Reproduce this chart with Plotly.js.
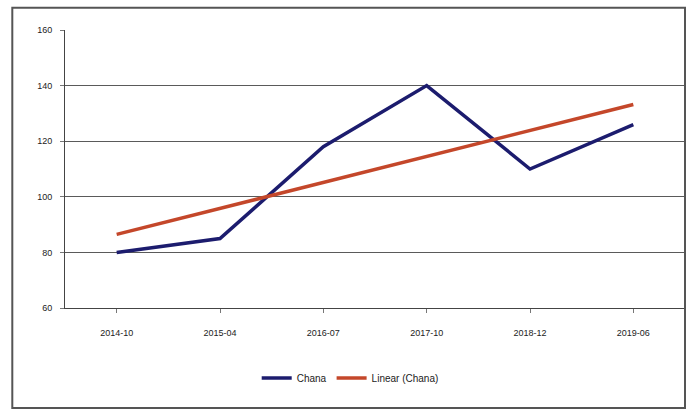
<!DOCTYPE html>
<html>
<head>
<meta charset="utf-8">
<script src="https://cdn.plot.ly/plotly-3.0.1.min.js"></script>
<style>
  html, body { margin: 0; padding: 0; background: #ffffff; }
  #chart { width: 694px; height: 416px; }
</style>
</head>
<body>
<div id="chart"></div>
<script>
// Period labels along the category axis
const periods = ["2014-10", "2015-04", "2016-07", "2017-10", "2018-12", "2019-06"];
// Chana price series
const chana = [80, 85, 118, 140, 110, 126];
// Value axis ticks
const yTicks = [60, 80, 100, 120, 140, 160];

// Least-squares linear trend over the category index (1..n), as a spreadsheet trendline does
function linearTrend(values) {
  const n = values.length;
  const xs = values.map((_, i) => i + 1);
  const mx = xs.reduce((a, b) => a + b, 0) / n;
  const my = values.reduce((a, b) => a + b, 0) / n;
  let num = 0, den = 0;
  for (let i = 0; i < n; i++) {
    num += (xs[i] - mx) * (values[i] - my);
    den += (xs[i] - mx) * (xs[i] - mx);
  }
  const slope = num / den;
  const icpt = my - slope * mx;
  return xs.map(x => icpt + slope * x);
}

const trend = linearTrend(chana);

const traces = [
  {
    x: periods, y: chana, name: "Chana", type: "scatter", mode: "lines",
    line: { color: "#1c1c6e", width: 3.5 }
  },
  {
    x: periods, y: trend, name: "Linear (Chana)", type: "scatter", mode: "lines",
    line: { color: "#c4472a", width: 3.5 }
  }
];

const layout = {
  width: 694, height: 416,
  margin: { l: 65, r: 9, t: 30, b: 108 },
  paper_bgcolor: "#ffffff", plot_bgcolor: "#ffffff",
  font: { family: "Liberation Sans, Arial, sans-serif", size: 9, color: "#222222" },
  showlegend: true,
  legend: {
    orientation: "h", x: 0.46, xanchor: "center", y: -0.2, yanchor: "top",
    font: { size: 10, color: "#222222" }
  },
  xaxis: {
    type: "category", range: [-0.5, 5.5],
    showgrid: false, showline: true, linecolor: "#444444", linewidth: 1,
    ticks: "outside", ticklen: 4, tickcolor: "#777777", ticklabelstandoff: 12,
    tickfont: { size: 9, color: "#222222" }, fixedrange: true
  },
  yaxis: {
    range: [60, 160], tickvals: yTicks, ticktext: yTicks.map(String),
    showgrid: true, gridcolor: "#5a5a5a", gridwidth: 1,
    showline: true, linecolor: "#444444", linewidth: 1,
    ticks: "outside", ticklen: 4, tickcolor: "#777777", ticklabelstandoff: 6,
    tickfont: { size: 9, color: "#222222" }, zeroline: false, fixedrange: true
  },
  shapes: [
    {
      type: "rect", xref: "paper", yref: "paper",
      x0: -0.085, x1: 1.0, y0: -0.36, y1: 1.08,
      line: { color: "#555555", width: 2 }, fillcolor: "rgba(0,0,0,0)"
    }
  ]
};

Plotly.newPlot("chart", traces, layout, { displayModeBar: false, staticPlot: true });
</script>
</body>
</html>
